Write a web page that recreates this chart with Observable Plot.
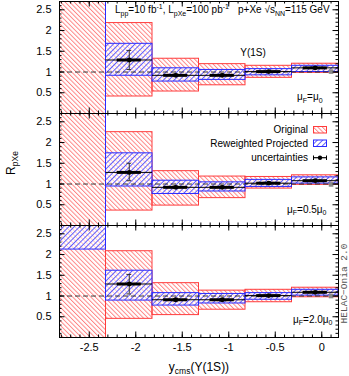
<!DOCTYPE html>
<html><head><meta charset="utf-8">
<script src="https://cdn.jsdelivr.net/npm/d3@7"></script>
<script src="https://cdn.jsdelivr.net/npm/@observablehq/plot@0.6"></script>
<style>
body{margin:0;background:#fff;font-family:"Liberation Sans",Arial,sans-serif;}
#wrap{position:relative;width:349px;height:376px;overflow:hidden;background:#fff}
#wrap > svg{position:absolute;left:0}
#over{position:absolute;left:0;top:0;pointer-events:none}
</style></head><body>
<div id="wrap"></div>
<script>
// ---- data ----
const binEdges   = [-2.82, -2.32, -1.82, -1.32, -0.82, -0.32, 0.18];
const binCenters = [-2.57, -2.07, -1.57, -1.07, -0.57, -0.07];
const xTickLabels = [-2.5, -2, -1.5, -1, -0.5, 0];
const yTickLabels = [0.5, 1, 1.5, 2, 2.5];
const panelLabels = ["μF=μ0", "μF=0.5μ0", "μF=2.0μ0"];

// panel 1 : muF = mu0
const origLo1 = [-1, 0.41, 0.53, 0.68, 0.86, 0.98];
const origHi1 = [ 4, 2.18, 1.32, 1.19, 1.15, 1.20];
const reweLo1 = [-1, 0.91, 0.77, 0.81, 0.92, 1.00];
const reweHi1 = [ 4, 1.68, 1.09, 1.05, 1.07, 1.15];
const cent1   = [null, 1.29, 0.92, 0.92, 1.01, 1.10];
const errLo1  = [null, 1.06, 0.89, 0.89, 0.99, 1.08];
const errHi1  = [null, 1.52, 0.95, 0.95, 1.03, 1.12];
// panel 2 : muF = 0.5 mu0
const origLo2 = [-1, 0.36, 0.48, 0.66, 0.89, 0.98];
const origHi2 = [ 4, 2.25, 1.31, 1.18, 1.17, 1.21];
const reweLo2 = [-1, 0.94, 0.76, 0.82, 0.93, 1.01];
const reweHi2 = [ 4, 1.74, 1.08, 1.04, 1.10, 1.16];
const cent2   = [null, 1.28, 0.92, 0.92, 1.02, 1.08];
const errLo2  = [null, 1.08, 0.89, 0.89, 1.00, 1.06];
const errHi2  = [null, 1.50, 0.95, 0.95, 1.04, 1.10];
// panel 3 : muF = 2.0 mu0
const origLo3 = [-1, 0.45, 0.54, 0.67, 0.85, 0.97];
const origHi3 = [ 4, 2.08, 1.31, 1.13, 1.15, 1.20];
const reweLo3 = [2.12, 0.89, 0.77, 0.82, 0.91, 1.01];
const reweHi3 = [ 4, 1.61, 1.07, 1.05, 1.07, 1.15];
const cent3   = [null, 1.29, 0.91, 0.91, 1.01, 1.09];
const errLo3  = [null, 1.05, 0.88, 0.88, 0.99, 1.07];
const errHi3  = [null, 1.52, 0.94, 0.94, 1.03, 1.11];
// grey reference marker
const refX = [0.1];
const refY = [[1.01], [0.99], [1.0]];

const panels = [
  {oLo: origLo1, oHi: origHi1, rLo: reweLo1, rHi: reweHi1, c: cent1, eLo: errLo1, eHi: errHi1},
  {oLo: origLo2, oHi: origHi2, rLo: reweLo2, rHi: reweHi2, c: cent2, eLo: errLo2, eHi: errHi2},
  {oLo: origLo3, oHi: origHi3, rLo: reweLo3, rHi: reweHi3, c: cent3, eLo: errLo3, eHi: errHi3}
];

// ---- layout ----
const W = 349, ML = 59, MR = 11, PH = 112, TOP = 1;
const yDom = [0, 2.7], xDom = [binEdges[0], binEdges[binEdges.length - 1]];
const minorX = d3.range(-28, 2).map(i => i / 10);
const minorY = d3.range(1, 27).map(i => i / 10);
const font = '"Liberation Sans", Arial, sans-serif';

const wrap = document.getElementById("wrap");
// hatch patterns
const defs = `<svg width="0" height="0" style="position:absolute"><defs>
<pattern id="redHatch" patternUnits="userSpaceOnUse" width="3.2" height="3.2" patternTransform="rotate(-45)">
<line x1="0.5" y1="0" x2="0.5" y2="3.2" stroke="#ff7a7a" stroke-width="0.9"/></pattern>
<pattern id="blueHatch" patternUnits="userSpaceOnUse" width="3.8" height="3.8" patternTransform="rotate(45)">
<line x1="0.5" y1="0" x2="0.5" y2="3.8" stroke="#5050ff" stroke-width="0.9"/></pattern>
</defs></svg>`;
wrap.insertAdjacentHTML("beforeend", defs);

panels.forEach((P, i) => {
  const rows = binCenters.map((xc, j) => ({
    x0: binEdges[j], x1: binEdges[j + 1], xc,
    oLo: P.oLo[j], oHi: P.oHi[j], rLo: P.rLo[j], rHi: P.rHi[j],
    c: P.c[j], eLo: P.eLo[j], eHi: P.eHi[j]
  }));
  const pts = rows.filter(d => d.c != null);
  const fillable = d => !(d.rLo < yDom[0] && d.rHi > yDom[1]);
  const last = i === 2;
  const MB = last ? 39 : 0;
  const plotW = W - ML - MR;
  const ref = refX.map((x, k) => ({x, y: refY[i][k]}));
  const svg = Plot.plot({
    width: W, height: PH + MB,
    marginLeft: ML, marginRight: MR, marginTop: 0, marginBottom: MB,
    style: {fontFamily: font, fontSize: "11px", background: "transparent", color: "black"},
    x: {domain: xDom, axis: last ? "bottom" : null, ticks: xTickLabels, tickSize: 0, tickPadding: 6,
        tickFormat: d => String(d), label: null},
    y: {domain: yDom, ticks: yTickLabels, tickSize: 0, tickPadding: 8, tickFormat: d => String(d), label: null},
    marks: [
      Plot.rect(rows, {x1: "x0", x2: "x1", y1: "oLo", y2: "oHi", fill: "url(#redHatch)", stroke: "#ff3c3c", strokeWidth: 1, clip: true}),
      Plot.rect(rows.filter(fillable), {x1: "x0", x2: "x1", y1: "rLo", y2: "rHi", fill: "white", fillOpacity: 0.55, clip: true}),
      Plot.rect(rows.filter(fillable), {x1: "x0", x2: "x1", y1: "rLo", y2: "rHi", fill: "url(#blueHatch)", clip: true}),
      Plot.rect(rows, {x1: "x0", x2: "x1", y1: "rLo", y2: "rHi", fill: "none", stroke: "#2a2aff", strokeWidth: 1, clip: true}),
      Plot.ruleY([1], {stroke: "#222", strokeDasharray: "5,3", strokeWidth: 0.9}),
      Plot.ruleY(pts, {y: "c", x1: "x0", x2: "x1", stroke: "black", strokeWidth: 1}),
      Plot.ruleX(pts, {x: "xc", y1: "eLo", y2: "eHi", stroke: "#333", strokeWidth: 1}),
      Plot.ruleY(pts, {y: "eLo", x1: d => d.xc - 0.025, x2: d => d.xc + 0.025, stroke: "#333"}),
      Plot.ruleY(pts, {y: "eHi", x1: d => d.xc - 0.025, x2: d => d.xc + 0.025, stroke: "#333"}),
      Plot.ruleY(pts, {y: "c", x1: d => d.xc - 0.13, x2: d => d.xc + 0.13, stroke: "black", strokeWidth: 3}),
      Plot.dot(pts, {x: "xc", y: "c", r: 2.4, fill: "black"}),
      Plot.dot(ref, {x: "x", y: "y", symbol: "square", r: 2.6, fill: "#8a8a8a"}),
      // inward ticks
      Plot.tickX(minorX, {x: d => d, insetTop: PH - 2.5, stroke: "black"}),
      Plot.tickX(minorX, {x: d => d, insetBottom: PH - 2.5, stroke: "black"}),
      Plot.tickX(xTickLabels, {x: d => d, insetTop: PH - 5.5, stroke: "black"}),
      Plot.tickX(xTickLabels, {x: d => d, insetBottom: PH - 5.5, stroke: "black"}),
      Plot.tickY(minorY, {y: d => d, insetRight: plotW - 2.5, stroke: "black"}),
      Plot.tickY(minorY, {y: d => d, insetLeft: plotW - 2.5, stroke: "black"}),
      Plot.tickY(yTickLabels, {y: d => d, insetRight: plotW - 5.5, stroke: "black"}),
      Plot.tickY(yTickLabels, {y: d => d, insetLeft: plotW - 5.5, stroke: "black"}),
      Plot.frame({stroke: "black", strokeWidth: 1})
    ]
  });
  svg.style.top = (TOP + i * PH) + "px";
  wrap.appendChild(svg);
});

// ---- annotations overlay ----
const lx = [297, 287, 293];
const ly = [100, 212.5, 322.5];
const lab = panelLabels.map((s, i) =>
  `<text x="${lx[i]}" y="${ly[i]}" font-size="10">μ<tspan font-size="7" dy="2.5">F</tspan><tspan dy="-2.5">=${s.slice(3, -2)}μ</tspan><tspan font-size="7" dy="2.5">0</tspan></text>`).join("");
const over = `<svg id="over" width="349" height="376" style="font-family:${font.replace(/"/g, "'")}">
<text x="115" y="13.3" font-size="10">L<tspan font-size="7" dy="2.5">pp</tspan><tspan dy="-2.5">=10 fb</tspan><tspan font-size="7" dy="-4">-1</tspan><tspan dy="4">, L</tspan><tspan font-size="7" dy="2.5">pXe</tspan><tspan dy="-2.5">=100 pb</tspan><tspan font-size="7" dy="-4">-1</tspan></text>
<text x="238" y="13.3" font-size="10">p+Xe √s<tspan font-size="7" dy="2.5">NN</tspan><tspan dy="-2.5">=115 GeV</tspan></text>
<text x="253" y="55.5" font-size="10" text-anchor="middle">Υ(1S)</text>
${lab}
<text x="308" y="132.5" font-size="10" text-anchor="end">Original</text>
<text x="308" y="146.5" font-size="10" text-anchor="end">Reweighted Projected</text>
<text x="308" y="161" font-size="10" text-anchor="end">uncertainties</text>
<rect x="313.5" y="126.5" width="13" height="6.5" fill="url(#redHatch)" stroke="#ff3c3c"/>
<rect x="313.5" y="140" width="13" height="6.5" fill="url(#blueHatch)" stroke="#2a2aff"/>
<line x1="313" x2="327" y1="157.7" y2="157.7" stroke="black" stroke-width="1.2"/>
<line x1="313.5" x2="313.5" y1="155.5" y2="160" stroke="black"/>
<line x1="326.5" x2="326.5" y1="155.5" y2="160" stroke="black"/>
<circle cx="320" cy="157.7" r="2.2" fill="black"/>
<text transform="translate(15,163) rotate(-90)" font-size="12" text-anchor="middle">R<tspan font-size="8.5" dy="3">pXe</tspan></text>
<text x="199" y="371" font-size="12" text-anchor="middle">y<tspan font-size="8.5" dy="3">cms</tspan><tspan dy="-3">(Υ(1S))</tspan></text>
<text transform="translate(346.5,283.5) rotate(-90)" font-size="9.5" text-anchor="middle" fill="#555" font-family="'Liberation Mono','DejaVu Sans Mono',monospace">HELAC−Onia 2.0</text>
</svg>`;
wrap.insertAdjacentHTML("beforeend", over);
</script>
</body></html>
